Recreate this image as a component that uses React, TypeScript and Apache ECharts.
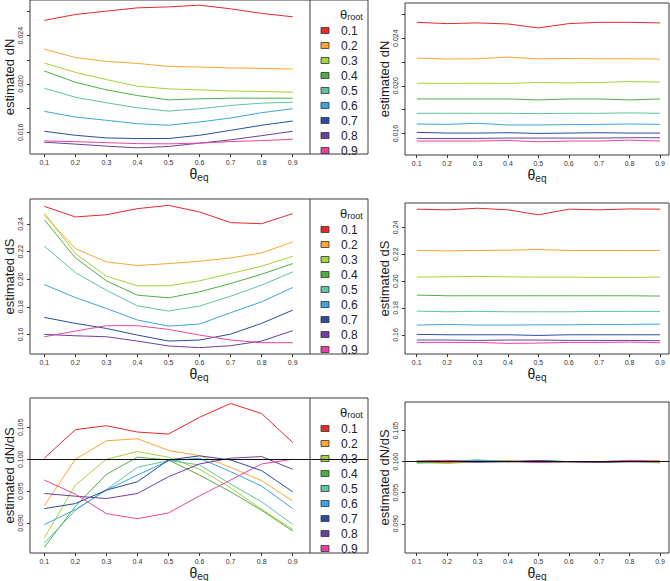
import React, { useEffect, useRef } from "react";
import * as echarts from "echarts";

const FONT = "'Liberation Sans', Arial, Helvetica, sans-serif";

// x values (theta_eq) and legend categories (theta_root)
const thetaEq = [0.1, 0.2, 0.3, 0.4, 0.5, 0.6, 0.7, 0.8, 0.9];
const thetaRoot = ["0.1", "0.2", "0.3", "0.4", "0.5", "0.6", "0.7", "0.8", "0.9"];
const palette = ["#E8282B", "#FDA632", "#A5D23A", "#4FAE45", "#5DC49B", "#3CA4E0", "#2A4BA0", "#6C3FA0", "#E8449E"];

// tick values
const dNTicks = [0.016, 0.018, 0.02, 0.022, 0.024, 0.026];
const dNLabels = [0.016, 0.02, 0.024];
const dSTicks = [0.16, 0.18, 0.2, 0.22, 0.24];
const dSLabels = [0.16, 0.18, 0.2, 0.22, 0.24];
const ratioTicks = [0.09, 0.095, 0.1, 0.105];
const ratioLabels = [0.09, 0.095, 0.1, 0.105];
const ratioRef = 0.1;

// estimated dN (left: varying, right: flat)
const dNLeft = [
  [0.02526, 0.02575, 0.02603, 0.0263, 0.02638, 0.02652, 0.02622, 0.02584, 0.02556],
  [0.02288, 0.02219, 0.02186, 0.0217, 0.02145, 0.0214, 0.02132, 0.02129, 0.02123],
  [0.02173, 0.02096, 0.02036, 0.01981, 0.01959, 0.01951, 0.01942, 0.01937, 0.01932],
  [0.02107, 0.02014, 0.01951, 0.01904, 0.01868, 0.01877, 0.01882, 0.01882, 0.01882],
  [0.01964, 0.0189, 0.01844, 0.01803, 0.01775, 0.01795, 0.01822, 0.01841, 0.01849],
  [0.01773, 0.01726, 0.01699, 0.01671, 0.01658, 0.01685, 0.01718, 0.01762, 0.01795],
  [0.01608, 0.01575, 0.01553, 0.01548, 0.01548, 0.01575, 0.01616, 0.01658, 0.01693],
  [0.01518, 0.01502, 0.01485, 0.01471, 0.01482, 0.0151, 0.01537, 0.01572, 0.01608],
  [0.01528, 0.01522, 0.01514, 0.01506, 0.01504, 0.0151, 0.01523, 0.01531, 0.01542],
];
const dNRight = [
  [0.02533, 0.02522, 0.02528, 0.02519, 0.02486, 0.02522, 0.02533, 0.02533, 0.02528],
  [0.02233, 0.02225, 0.02227, 0.02241, 0.02227, 0.0223, 0.02227, 0.02227, 0.02225],
  [0.02022, 0.0202, 0.02022, 0.0202, 0.02028, 0.02025, 0.02028, 0.02036, 0.02031],
  [0.0189, 0.0189, 0.0189, 0.0189, 0.01882, 0.0189, 0.0189, 0.01882, 0.0189],
  [0.0177, 0.0177, 0.0177, 0.0177, 0.01767, 0.0177, 0.0177, 0.01773, 0.0177],
  [0.0168, 0.01677, 0.01686, 0.01672, 0.01672, 0.01675, 0.01677, 0.0168, 0.01677],
  [0.0161, 0.01604, 0.01604, 0.01607, 0.01601, 0.01604, 0.01607, 0.01604, 0.01604],
  [0.01559, 0.01559, 0.01559, 0.01562, 0.01562, 0.01562, 0.01562, 0.01565, 0.01565],
  [0.01537, 0.01537, 0.01537, 0.01542, 0.01531, 0.01537, 0.01537, 0.01545, 0.01537],
];

// estimated dS
const dSLeft = [
  [0.2528, 0.2451, 0.2467, 0.2511, 0.2535, 0.2487, 0.241, 0.2402, 0.2475],
  [0.2463, 0.2222, 0.2125, 0.2099, 0.2113, 0.213, 0.2154, 0.219, 0.227],
  [0.248, 0.2186, 0.2022, 0.1952, 0.1952, 0.1988, 0.2041, 0.2094, 0.2166],
  [0.2431, 0.2154, 0.1988, 0.1884, 0.1865, 0.1908, 0.1969, 0.2036, 0.2113],
  [0.2239, 0.2048, 0.192, 0.1807, 0.1769, 0.1805, 0.1877, 0.1957, 0.2053],
  [0.1961, 0.1867, 0.1788, 0.1704, 0.166, 0.1675, 0.1757, 0.1836, 0.194],
  [0.1723, 0.168, 0.1643, 0.1595, 0.1552, 0.1559, 0.1602, 0.168, 0.1776],
  [0.16, 0.159, 0.1583, 0.1552, 0.1516, 0.1504, 0.1518, 0.1552, 0.1627],
  [0.1583, 0.1624, 0.1663, 0.1663, 0.1636, 0.1595, 0.1559, 0.154, 0.154],
];
const dSRight = [
  [0.2535, 0.253, 0.2542, 0.253, 0.2493, 0.2535, 0.253, 0.2537, 0.2535],
  [0.2228, 0.2225, 0.2228, 0.223, 0.2235, 0.2228, 0.2228, 0.2228, 0.2228],
  [0.203, 0.2032, 0.2035, 0.2032, 0.203, 0.203, 0.2027, 0.2027, 0.203],
  [0.1896, 0.1891, 0.1891, 0.1891, 0.1891, 0.1891, 0.1891, 0.1891, 0.1889],
  [0.1777, 0.1772, 0.1775, 0.1772, 0.1772, 0.1772, 0.1775, 0.1775, 0.1775],
  [0.1673, 0.1678, 0.1673, 0.1673, 0.1675, 0.1675, 0.1678, 0.1678, 0.168],
  [0.1604, 0.1601, 0.1601, 0.1601, 0.1596, 0.1601, 0.1601, 0.1601, 0.1601],
  [0.1562, 0.1562, 0.1559, 0.1562, 0.1562, 0.1559, 0.1559, 0.1559, 0.1557],
  [0.1544, 0.1544, 0.1544, 0.1537, 0.1539, 0.1544, 0.1544, 0.1547, 0.1542],
];

// estimated dN/dS
const ratioLeft = [
  [0.10016, 0.10463, 0.10526, 0.10426, 0.10395, 0.10658, 0.10874, 0.10716, 0.10263],
  [0.09268, 0.1, 0.10289, 0.10321, 0.10137, 0.10058, 0.09874, 0.09663, 0.09347],
  [0.08768, 0.09595, 0.1, 0.10121, 0.10032, 0.09842, 0.09553, 0.09216, 0.089],
  [0.08621, 0.09263, 0.09763, 0.10032, 0.09989, 0.09753, 0.09489, 0.092, 0.08874],
  [0.08684, 0.092, 0.09526, 0.09874, 0.09979, 0.09911, 0.09611, 0.09332, 0.08979],
  [0.08974, 0.09211, 0.09516, 0.09753, 0.09974, 0.10016, 0.09805, 0.09579, 0.09226],
  [0.09226, 0.09305, 0.09516, 0.09647, 0.09989, 0.10053, 0.09989, 0.09821, 0.09489],
  [0.09463, 0.09421, 0.09384, 0.09463, 0.09726, 0.09926, 0.10016, 0.10042, 0.09842],
  [0.09674, 0.09453, 0.09147, 0.09068, 0.09158, 0.09426, 0.09674, 0.09926, 0.1],
];
const ratioRight = [
  [0.1001, 0.1002, 0.1, 0.1001, 0.0999, 0.1, 0.0999, 0.1001, 0.1],
  [0.0999, 0.0997, 0.1, 0.1001, 0.1, 0.1, 0.1, 0.1001, 0.0998],
  [0.0998, 0.0999, 0.1001, 0.1, 0.1, 0.1, 0.0999, 0.1, 0.0999],
  [0.0998, 0.0999, 0.1, 0.1001, 0.0999, 0.1, 0.1, 0.1, 0.1],
  [0.1, 0.1, 0.1003, 0.1, 0.1001, 0.1, 0.1, 0.1, 0.1001],
  [0.1001, 0.1, 0.1002, 0.1, 0.1001, 0.1, 0.1, 0.1, 0.1],
  [0.1, 0.1, 0.1, 0.1, 0.1, 0.1, 0.0999, 0.1, 0.1],
  [0.1, 0.1001, 0.0999, 0.1, 0.1002, 0.1, 0.0999, 0.1001, 0.1],
  [0.1, 0.1002, 0.1, 0.1, 0.0999, 0.1, 0.1, 0.1002, 0.1001],
];

type Row = {
  yName: string;
  yMin: number;
  yMax: number;
  ticks: number[];
  labels: number[];
  digits: number;
  left: number[][];
  right: number[][];
  refLine: boolean;
};

const rows: Row[] = [
  { yName: "estimated dN", yMin: 0.0142, yMax: 0.02695, ticks: dNTicks, labels: dNLabels, digits: 3, left: dNLeft, right: dNRight, refLine: false },
  { yName: "estimated dS", yMin: 0.1458, yMax: 0.2581, ticks: dSTicks, labels: dSLabels, digits: 2, left: dSLeft, right: dSRight, refLine: false },
  { yName: "estimated dN/dS", yMin: 0.0853, yMax: 0.1096, ticks: ratioTicks, labels: ratioLabels, digits: 3, left: ratioLeft, right: ratioRight, refLine: true },
];

// layout (pixels)
const leftBox = { x: 30, w: 338, tops: [0, 199, 398], bottoms: [154, 354, 553], xMin: 0.0539, xMax: 1.1425, sep: 310 };
const rightBox = { x: 405, w: 264, tops: [3, 203, 402], bottoms: [155, 354, 553], xMin: 0.0615, xMax: 0.9296 };

export default function App() {
  const ref = useRef<HTMLDivElement>(null);
  useEffect(() => {
    if (!ref.current) return;
    const chart = echarts.init(ref.current, null, { renderer: "svg" });
    const grids: any[] = [];
    const xAxes: any[] = [];
    const yAxes: any[] = [];
    const series: any[] = [];
    const graphic: any[] = [];
    const subRich = {
      t: { fontSize: 14, fontFamily: FONT, color: "#222" },
      s: { fontSize: 10, fontFamily: FONT, color: "#222", padding: [7, 0, 0, 0] },
    };

    rows.forEach((row, r) => {
      [0, 1].forEach((side) => {
        const box = side === 0 ? leftBox : rightBox;
        const top = box.tops[r];
        const height = box.bottoms[r] - top;
        const idx = grids.length;
        grids.push({
          left: box.x, top, width: box.w, height, show: true,
          borderColor: "#3a3a3a", borderWidth: 1, backgroundColor: "transparent",
          containLabel: false, outerBoundsMode: "none",
        });
        xAxes.push({
          type: "value", gridIndex: idx, min: box.xMin, max: box.xMax,
          axisLine: { show: false },
          splitLine: { show: false },
          axisTick: { show: true, length: 3, lineStyle: { color: "#333" }, customValues: thetaEq },
          axisLabel: { fontSize: 7, color: "#333", margin: 5, fontFamily: FONT, customValues: thetaEq, formatter: (v: number) => v.toFixed(1) },
          name: "{t|θ}{s|eq}", nameLocation: "middle", nameGap: 11,
          nameTextStyle: { rich: subRich },
        });
        yAxes.push({
          type: "value", gridIndex: idx, min: row.yMin, max: row.yMax,
          axisLine: { show: false },
          splitLine: { show: false },
          axisTick: { show: true, length: 3, lineStyle: { color: "#333" }, customValues: row.ticks },
          axisLabel: { fontSize: 7, color: "#333", margin: 6, rotate: 90, fontFamily: FONT, customValues: row.labels, formatter: (v: number) => v.toFixed(row.digits) },
          name: row.yName, nameLocation: "middle", nameGap: 14, nameRotate: 90, nameMoveOverlap: false,
          nameTextStyle: { fontSize: 13, color: "#222", fontFamily: FONT },
        });
        const vals = side === 0 ? row.left : row.right;
        vals.forEach((v, i) => {
          const s: any = {
            type: "line", name: thetaRoot[i], xAxisIndex: idx, yAxisIndex: idx,
            data: thetaEq.map((x, j) => [x, v[j]]),
            symbol: "none", silent: true,
            lineStyle: { width: 1, color: palette[i] },
            itemStyle: { color: palette[i] },
          };
          if (row.refLine && i === 0) {
            s.markLine = {
              silent: true, symbol: ["none", "none"], label: { show: false },
              lineStyle: { color: "#111", width: 1, type: "solid" },
              data: [{ yAxis: ratioRef }],
            };
          }
          series.push(s);
        });
      });

      // legend block inside left panel
      const top = leftBox.tops[r];
      const bottom = leftBox.bottoms[r];
      graphic.push({ type: "line", shape: { x1: leftBox.sep, y1: top, x2: leftBox.sep, y2: bottom }, style: { stroke: "#3a3a3a", lineWidth: 1 } });
      graphic.push({
        type: "text", x: 340, y: top + 14,
        style: { text: "{t|θ}{s|root}", rich: { t: { fontSize: 13, fontFamily: FONT, fill: "#222" }, s: { fontSize: 9, fontFamily: FONT, fill: "#222", padding: [6, 0, 0, 0] } }, verticalAlign: "middle", align: "left" },
      });
      thetaRoot.forEach((lab, i) => {
        const cy = top + 30.5 + i * 15;
        graphic.push({ type: "rect", shape: { x: 321, y: cy - 3, width: 8, height: 6 }, style: { fill: palette[i], stroke: "#333", lineWidth: 0.8 } });
        graphic.push({ type: "text", x: 341, y: cy, style: { text: lab, fontSize: 12, fontFamily: FONT, fill: "#222", verticalAlign: "middle", align: "left" } });
      });
    });

    chart.setOption({
      animation: false,
      backgroundColor: "#fff",
      grid: grids,
      xAxis: xAxes,
      yAxis: yAxes,
      series,
      graphic,
    });
    return () => chart.dispose();
  }, []);
  return <div ref={ref} style={{ position: "absolute", left: 0, top: 0, width: 670, height: 581 }} />;
}
